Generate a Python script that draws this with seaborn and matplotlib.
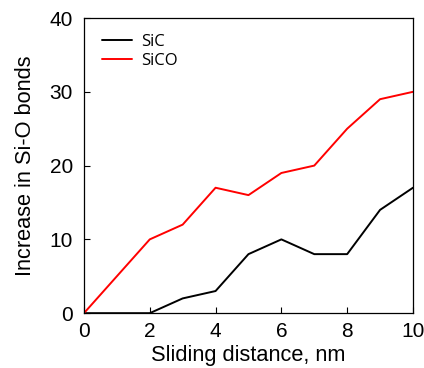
import numpy as np
import pandas as pd
import seaborn as sns
import matplotlib.pyplot as plt

# sliding distance (nm) and Si-O bond increase
distance = [0, 1, 2, 3, 4, 5, 6, 7, 8, 9, 10]
sic = [0, 0, 0, 2, 3, 8, 10, 8, 8, 14, 17]
sico = [0, 5, 10, 12, 17, 16, 19, 20, 25, 29, 30]

df = pd.DataFrame({
    "distance": distance * 2,
    "bonds": sic + sico,
    "sample": ["SiC"] * len(sic) + ["SiCO"] * len(sico),
})

sns.set_style("ticks")
plt.rcParams['font.family'] = ['Liberation Sans', 'DejaVu Sans']
plt.rcParams['text.color'] = 'black'
plt.rcParams['axes.labelcolor'] = 'black'
plt.rcParams['xtick.color'] = 'black'
plt.rcParams['ytick.color'] = 'black'

fig = plt.figure(figsize=(4.24, 3.68), dpi=100)
ax = fig.add_axes([0.198, 0.149, 0.776, 0.802])
sns.lineplot(data=df, x="distance", y="bonds", hue="sample",
             palette={"SiC": "black", "SiCO": "#ff0000"}, linewidth=1.4, ax=ax)

ax.set_xlim(0, 10)
ax.set_ylim(0, 40)
ax.set_xticks([0, 2, 4, 6, 8, 10])
ax.set_yticks([0, 10, 20, 30, 40])
ax.tick_params(direction='in', labelsize=15, length=4, width=0.8, top=False, right=False)
ax.tick_params(axis='x', pad=6)
ax.tick_params(axis='y', pad=8)
ax.set_xlabel("Sliding distance, nm", fontsize=15.7, labelpad=3)
ax.set_ylabel("Increase in Si-O bonds", fontsize=15.7, labelpad=10)
for s in ax.spines.values():
    s.set_linewidth(0.9)
    s.set_color("black")

leg = ax.legend(loc="upper left", frameon=False, handlelength=1.8,
                handletextpad=0.55, labelspacing=0.2,
                prop={'family': 'Open Sans', 'size': 12},
                borderaxespad=0.0, bbox_to_anchor=(0.035, 0.97))
fig.savefig("out.png", dpi=100)
